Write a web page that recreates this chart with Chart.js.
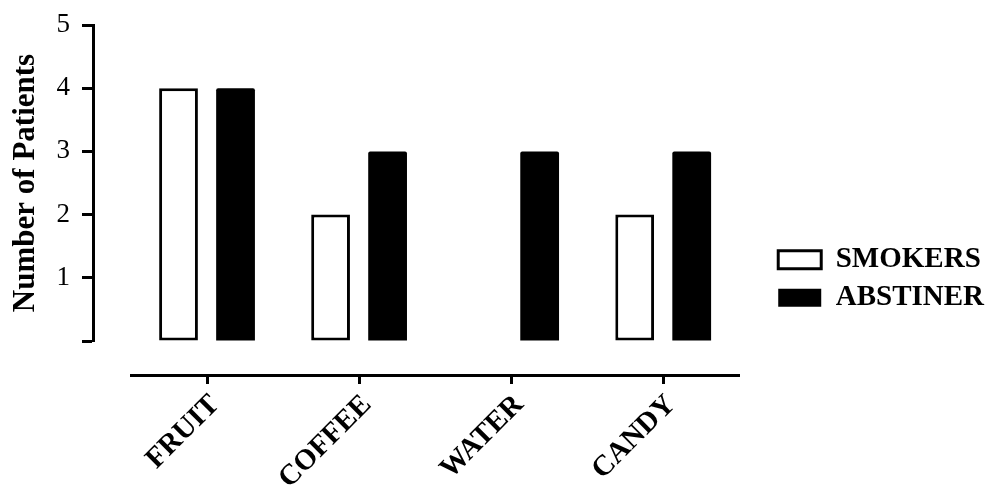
<!DOCTYPE html>
<html>
<head>
<meta charset="utf-8">
<script src="https://cdn.jsdelivr.net/npm/chart.js@4/dist/chart.umd.min.js"></script>
<style>
  html, body { margin: 0; padding: 0; background: #fff; }
</style>
</head>
<body>
<canvas id="chart" width="994" height="485"></canvas>
<script>
const categories = ["FRUIT", "COFFEE", "WATER", "CANDY"];
const smokers = [4, 2, 0, 2];
const abstiner = [4, 3, 3, 3];
const yTicks = [0, 1, 2, 3, 4, 5];

const SERIF = "'Liberation Serif', 'Times New Roman', serif";

// empty axes used only to push the real axes apart, like in the original figure
const spacer = (position, size) => ({
  type: "linear",
  position,
  weight: 0,
  grid: { display: false },
  border: { display: false },
  ticks: { display: false },
  afterFit: (scale) => {
    if (scale.isHorizontal()) scale.height = size;
    else scale.width = size;
  },
});

const barStyle = {
  xAxisID: "x",
  yAxisID: "y",
  categoryPercentage: 0.75,
  barPercentage: 0.68,
};

new Chart(document.getElementById("chart"), {
  type: "bar",
  data: {
    labels: categories,
    datasets: [
      {
        ...barStyle,
        label: "SMOKERS",
        data: smokers,
        backgroundColor: "#fff",
        borderColor: "#000",
        borderWidth: 3,
        borderSkipped: false,
      },
      {
        ...barStyle,
        label: "ABSTINER",
        data: abstiner,
        backgroundColor: "#000",
        borderColor: "#000",
        borderWidth: 0,
        borderRadius: 2,
      },
    ],
  },
  options: {
    responsive: false,
    animation: false,
    layout: { padding: { top: 25, left: 0, right: 0, bottom: 0 } },
    scales: {
      y: {
        position: "left",
        weight: 1,
        min: 0,
        max: 5,
        afterBuildTicks: (scale) => {
          scale.ticks = yTicks.map((v) => ({ value: v }));
        },
        ticks: {
          padding: 12,
          color: "#000",
          // small line height so the top label does not push the plot down
          font: { family: SERIF, size: 27, lineHeight: 0.9 },
          callback: (v) => (v === 0 ? "" : v),
        },
        grid: {
          display: true,
          drawOnChartArea: false,
          drawTicks: true,
          tickLength: 11,
          tickWidth: 3,
          tickColor: "#000",
        },
        border: { display: true, width: 3, color: "#000" },
        title: {
          display: true,
          text: "Number of Patients",
          color: "#000",
          font: { family: SERIF, size: 31, weight: "bold" },
          padding: { top: 7, bottom: 0 },
        },
        afterFit: (scale) => {
          scale.width = 93;
        },
      },
      y2: spacer("left", 38),
      y3: spacer("right", 30),
      x2: spacer("bottom", 34),
      x: {
        position: "bottom",
        weight: 1,
        offset: true,
        grid: {
          display: true,
          offset: false,
          drawOnChartArea: false,
          drawTicks: true,
          tickLength: 9,
          tickWidth: 3,
          tickColor: "#000",
        },
        border: { display: true, width: 3, color: "#000" },
        ticks: {
          minRotation: 45,
          maxRotation: 45,
          padding: 4,
          labelOffset: 8,
          color: "#000",
          font: { family: SERIF, size: 29, weight: "bold" },
        },
        afterFit: (scale) => {
          scale.height = 110;
        },
      },
    },
    plugins: {
      tooltip: { enabled: false },
      legend: {
        position: "right",
        align: "center",
        maxWidth: 260,
        title: {
          display: true,
          text: "",
          padding: { top: 33, bottom: 0 },
          font: { size: 12, lineHeight: 1.2 },
        },
        labels: {
          boxWidth: 43,
          boxHeight: 18,
          padding: 9,
          color: "#000",
          font: { family: SERIF, size: 29, weight: "bold" },
        },
      },
    },
  },
});
</script>
</body>
</html>
